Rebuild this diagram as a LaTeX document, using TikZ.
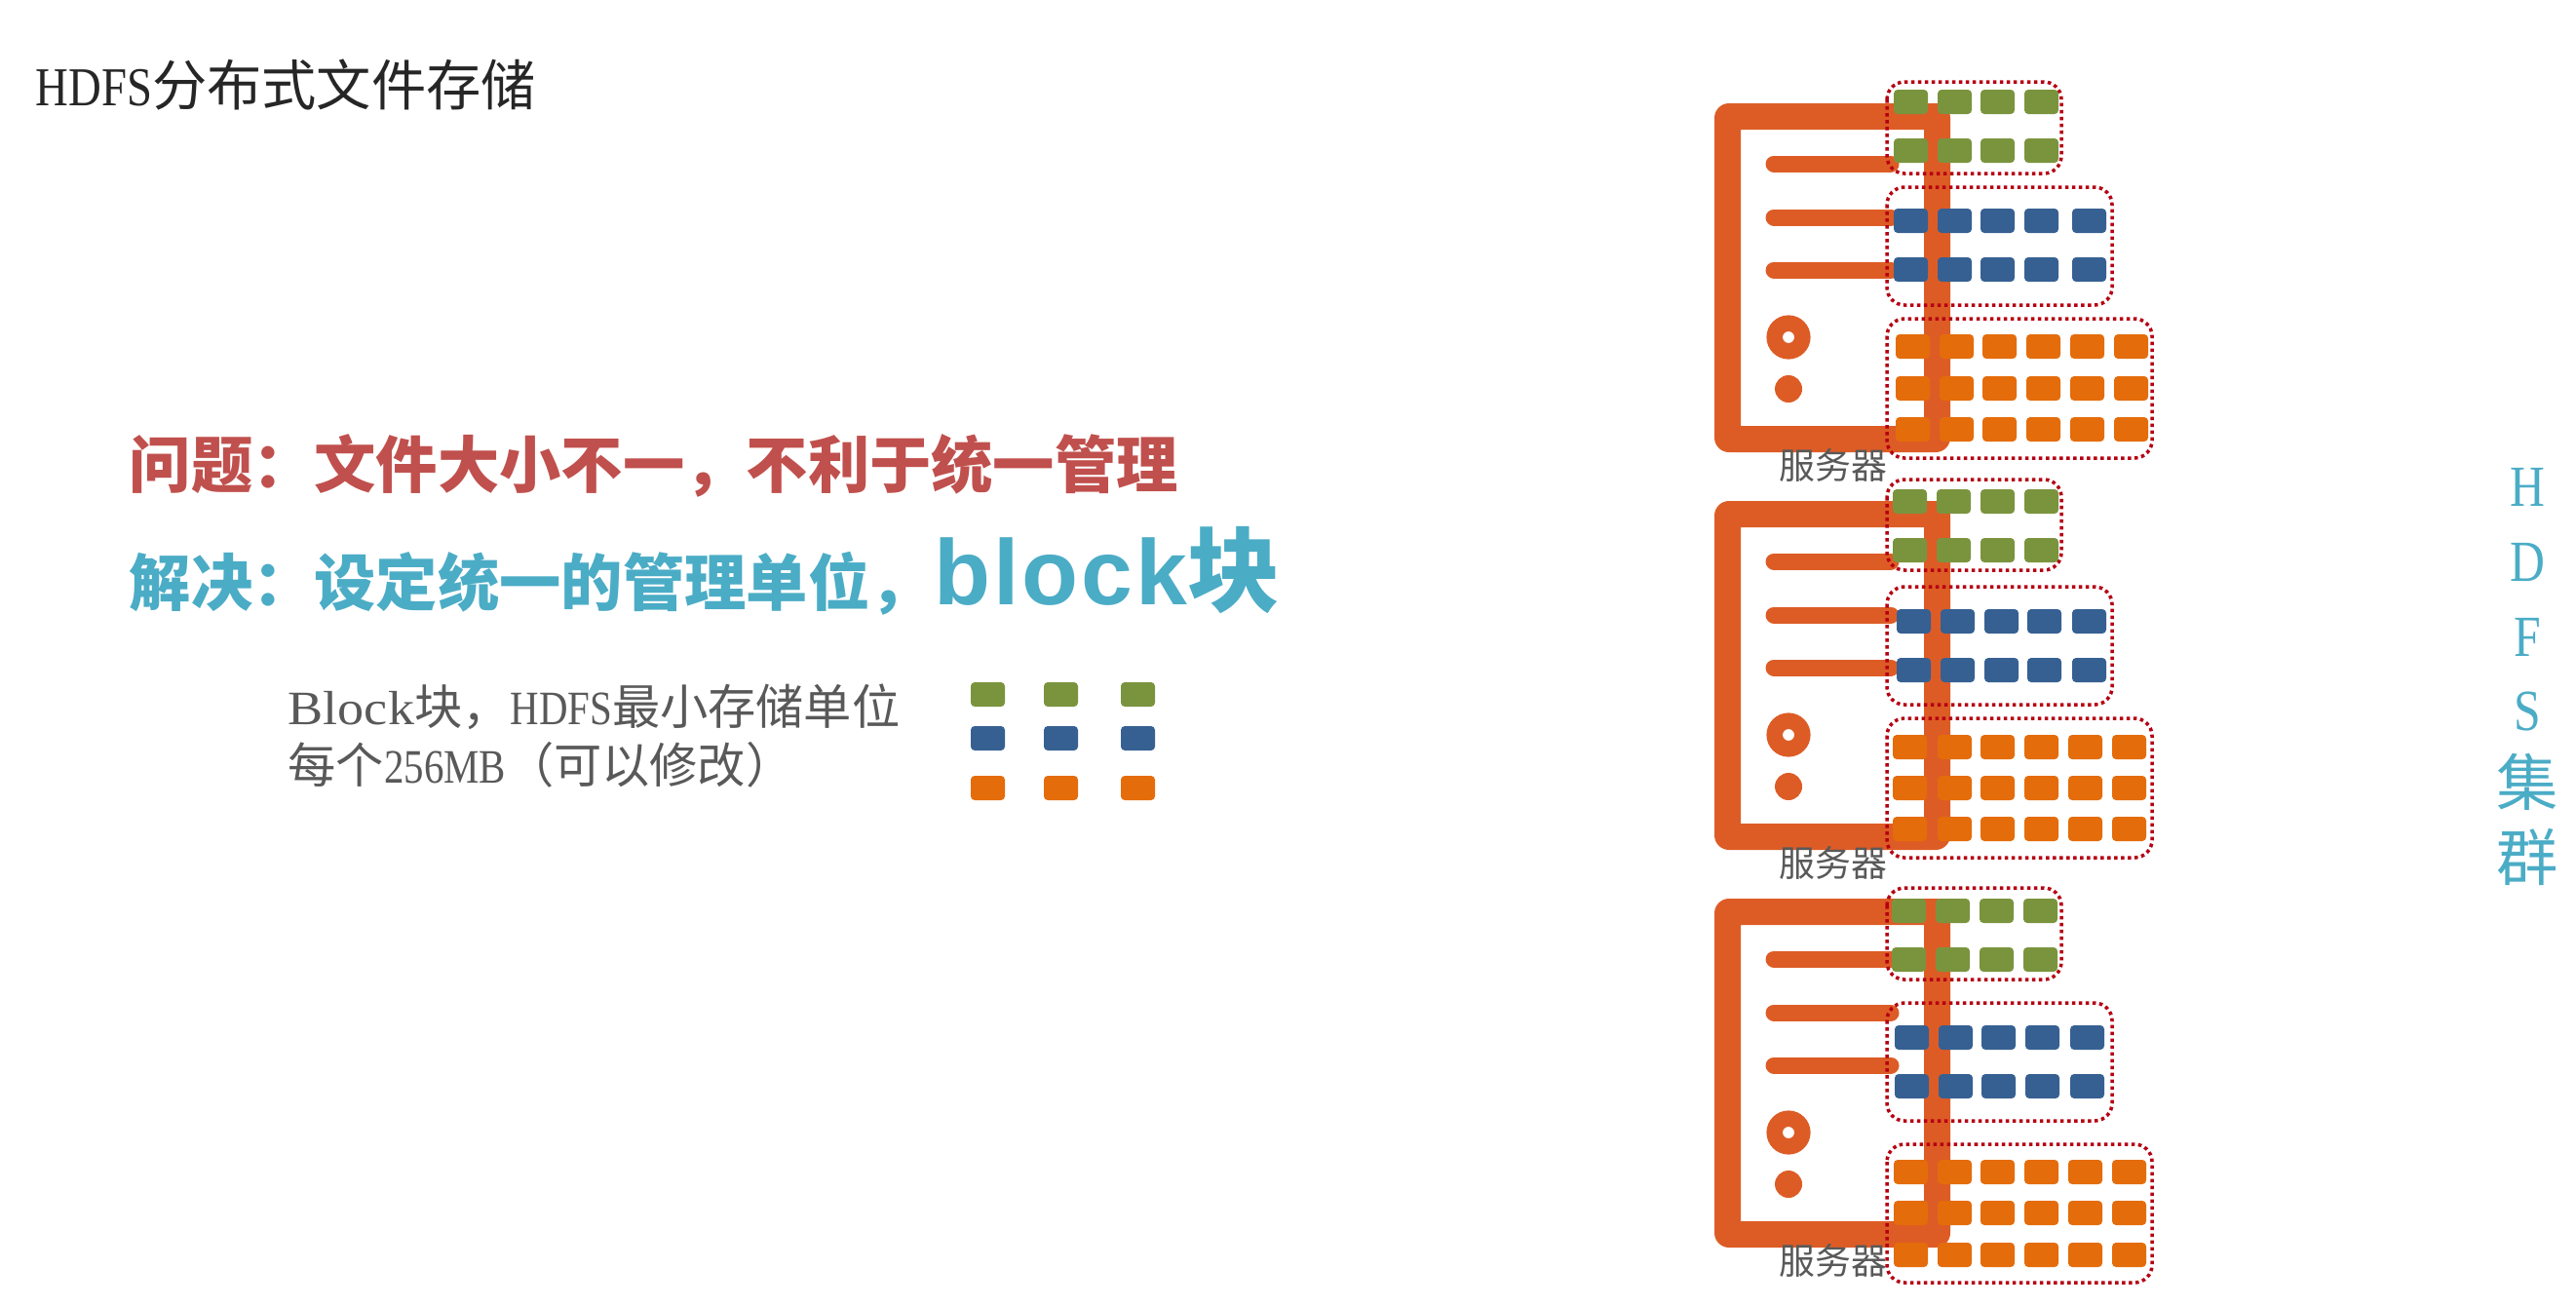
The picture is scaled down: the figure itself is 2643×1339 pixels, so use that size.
\documentclass[tikz,border=0pt]{standalone}
\usepackage{fontspec}
\setmainfont[FakeStretch=0.83]{Liberation Serif}
\newfontfamily\latinwide[FakeStretch=1.1]{Liberation Serif}
\newfontfamily\cjk{Noto Sans CJK SC}
\newfontfamily\wordfont[LetterSpace=3]{Liberation Sans}
\newcommand{\qcolon}{\char"FF1A\relax}
\newcommand{\qcomma}{\char"FF0C\relax}
\newcommand{\qopen}{\char"FF08\relax}
\newcommand{\qclose}{\char"FF09\relax}
\definecolor{servercol}{HTML}{DD5C26}
\definecolor{greencol}{HTML}{7A943E}
\definecolor{bluecol}{HTML}{366092}
\definecolor{orangecol}{HTML}{E46C0A}
\definecolor{boxcol}{HTML}{B50012}
\definecolor{redtext}{HTML}{C0504D}
\definecolor{cyantext}{HTML}{4BACC6}
\definecolor{graytext}{HTML}{595959}
\tikzset{
    serverfill/.style={fill=servercol, draw=none},
    serverbar/.style={draw=servercol, line width=0.17cm, line cap=round},
    blockbox/.style={draw=boxcol, line width=0.035cm, dash pattern=on 0.035cm off 0.035cm, rounded corners=0.18cm},
    greenchip/.style={fill=greencol, rounded corners=0.04cm},
    bluechip/.style={fill=bluecol, rounded corners=0.04cm},
    orangechip/.style={fill=orangecol, rounded corners=0.04cm},
    servertext/.style={anchor=west, inner sep=0pt, text=graytext, font=\fontsize{10.5}{12}\selectfont\cjk},
    headline/.style={anchor=west, inner sep=0pt, font=\fontsize{18}{22}\selectfont\cjk\bfseries}
}
\newcommand{\serverunit}[1]{
    \begin{scope}[shift={(0,#1)}]
        \fill[serverfill, even odd rule, rounded corners=0.15cm] (1759,106) rectangle (2001,464)
            [sharp corners] (1786,133) rectangle (1974,437);
        \draw[serverbar] (1820,168) -- (1940,168);
        \draw[serverbar] (1820,223) -- (1940,223);
        \draw[serverbar] (1820,277) -- (1940,277);
        \fill[serverfill, even odd rule] (1835,346) circle[radius=22.6] (1835,346) circle[radius=6];
        \fill[serverfill] (1835,399) circle[radius=14];
    \end{scope}
}
\newcommand{\chiprow}[3]{
    \foreach \xpos in {#3} {
        \fill[#1] (\xpos,#2) rectangle ++(35,25);
    }
}

\begin{document}
\begin{tikzpicture}[x=0.01cm, y=-0.01cm]

    \useasboundingbox (0,0) rectangle (2643,1339);

    \node[anchor=west, inner sep=0pt, text=black!85, font=\fontsize{16}{20}\selectfont] (title) at (36,87)
        {HDFS{\cjk 分布式文件存储}};

    \node[headline, text=redtext] (problem) at (132,478) {问题\qcolon 文件大小不一\qcomma 不利于统一管理};
    \node[headline, text=cyantext] (answer) at (132,599) {解决\qcolon 设定统一的管理单位\qcomma};
    \node[anchor=base west, inner sep=0pt, text=cyantext, font=\fontsize{27}{32}\selectfont\wordfont\bfseries] (word) at (958,620)
        {block{\cjk 块}};

    \node[anchor=north west, inner sep=0pt, text=graytext, align=left, font=\fontsize{14}{17}\selectfont] (note) at (295,701)
        {{\latinwide Block}{\cjk 块\qcomma}HDFS{\cjk 最小存储单位}\\{\cjk 每个}256MB{\cjk \qopen 可以修改\qclose}};

    \chiprow{greenchip}{700}{996,1071,1150}
    \chiprow{bluechip}{745}{996,1071,1150}
    \chiprow{orangechip}{796}{996,1071,1150}

    \node[anchor=north, inner sep=0pt, text=cyantext, align=center, font=\fontsize{17}{21.8}\selectfont] (cluster) at (2593,480)
        {H\\D\\F\\S\\{\fontsize{18}{21.8}\selectfont\cjk 集}\\{\fontsize{18}{21.8}\selectfont\cjk 群}};

    \serverunit{0}
    \serverunit{408}
    \serverunit{816}

    \node[servertext] (serverone) at (1825,477) {服务器};
    \node[servertext] (servertwo) at (1825,885) {服务器};
    \node[servertext] (serverthree) at (1825,1293) {服务器};

    \draw[blockbox] (1936,84) rectangle (2115,178);
    \draw[blockbox] (1936,192) rectangle (2167,313);
    \draw[blockbox] (1936,327) rectangle (2208,470);
    \chiprow{greenchip}{92}{1943,1988,2032,2077}
    \chiprow{greenchip}{142}{1943,1988,2032,2077}
    \chiprow{bluechip}{214}{1943,1988,2032,2077,2126}
    \chiprow{bluechip}{264}{1943,1988,2032,2077,2126}
    \chiprow{orangechip}{343}{1945,1990,2034,2079,2124,2169}
    \chiprow{orangechip}{386}{1945,1990,2034,2079,2124,2169}
    \chiprow{orangechip}{428}{1945,1990,2034,2079,2124,2169}

    \draw[blockbox] (1936,492) rectangle (2115,585);
    \draw[blockbox] (1936,602) rectangle (2167,723);
    \draw[blockbox] (1936,737) rectangle (2208,880);
    \chiprow{greenchip}{502}{1942,1987,2032,2077}
    \chiprow{greenchip}{552}{1942,1987,2032,2077}
    \chiprow{bluechip}{625}{1946,1991,2036,2080,2126}
    \chiprow{bluechip}{675}{1946,1991,2036,2080,2126}
    \chiprow{orangechip}{754}{1942,1988,2032,2077,2122,2167}
    \chiprow{orangechip}{796}{1942,1988,2032,2077,2122,2167}
    \chiprow{orangechip}{838}{1942,1988,2032,2077,2122,2167}

    \draw[blockbox] (1936,911) rectangle (2115,1005);
    \draw[blockbox] (1936,1029) rectangle (2167,1150);
    \draw[blockbox] (1936,1174) rectangle (2208,1316);
    \chiprow{greenchip}{922}{1941,1986,2031,2076}
    \chiprow{greenchip}{972}{1941,1986,2031,2076}
    \chiprow{bluechip}{1052}{1944,1989,2033,2078,2124}
    \chiprow{bluechip}{1102}{1944,1989,2033,2078,2124}
    \chiprow{orangechip}{1190}{1943,1988,2032,2077,2122,2167}
    \chiprow{orangechip}{1232}{1943,1988,2032,2077,2122,2167}
    \chiprow{orangechip}{1275}{1943,1988,2032,2077,2122,2167}

\end{tikzpicture}
\end{document}
